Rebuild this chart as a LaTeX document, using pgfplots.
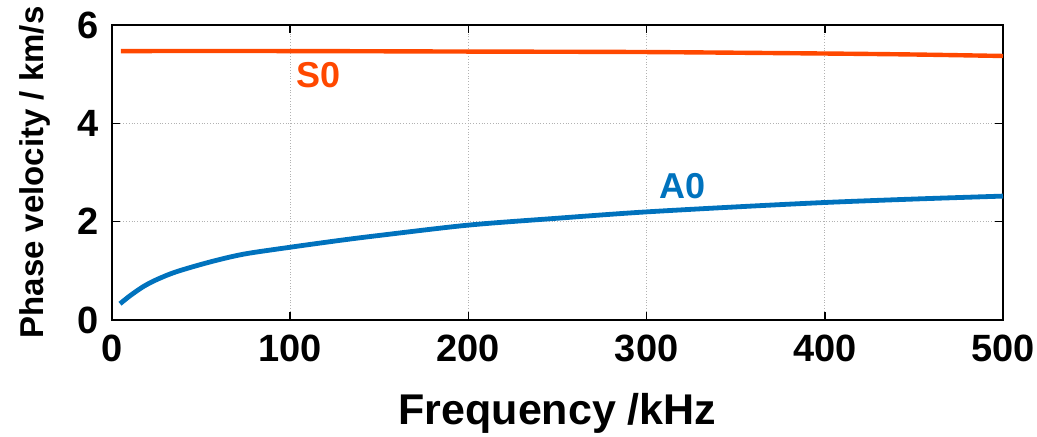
\documentclass[border=0pt]{standalone}
\usepackage{fontspec}
\setmainfont{Liberation Sans}
\usepackage{pgfplots}
\pgfplotsset{compat=1.18}
\definecolor{sorange}{RGB}{255,72,0}
\definecolor{ablue}{RGB}{0,114,189}
\begin{document}
\begin{tikzpicture}
\begin{axis}[
  scale only axis,
  width=445.5pt, height=147.5pt,
  xmin=0, xmax=500, ymin=0, ymax=6,
  xtick={0,100,...,500}, ytick={0,2,4,6},
  tick align=inside, major tick length=4pt,
  axis line style={line width=0.8pt},
  tick style={line width=0.8pt, black},
  grid=major,
  grid style={densely dotted, gray!60, line width=0.6pt},
  /pgf/number format/assume math mode=true,
  ticklabel style={font=\fontsize{19}{19}\selectfont\bfseries},
  xticklabel style={yshift=-4pt},
  yticklabel style={xshift=-3pt},
  xlabel={Frequency /kHz},
  ylabel={Phase velocity / km/s},
  xlabel style={font=\fontsize{21.5}{21.5}\selectfont\bfseries, yshift=-9pt},
  ylabel style={font=\fontsize{16.5}{16.5}\selectfont\bfseries, yshift=7pt},
]
\addplot[sorange, line width=2.2pt, smooth] coordinates {
  (5,5.47) (100,5.47) (200,5.46) (300,5.45) (400,5.42) (450,5.40) (500,5.37)
};
\addplot[ablue, line width=2.4pt, smooth] coordinates {
  (4.5,0.33) (10,0.49) (17.6,0.68) (25,0.82) (36,0.98) (55,1.18) (74,1.34)
  (100,1.48) (128,1.62) (150,1.72) (200,1.93) (250,2.07) (296,2.19)
  (350,2.30) (400,2.39) (450,2.46) (500,2.52)
};
\node[sorange, font=\fontsize{18}{18}\selectfont\bfseries] at (axis cs:116,4.98) {S0};
\node[ablue, font=\fontsize{18}{18}\selectfont\bfseries] at (axis cs:320,2.72) {A0};
\coordinate (sw) at (rel axis cs:0,0);
\coordinate (ne) at (rel axis cs:1,1);
\end{axis}
\pgfresetboundingbox
\path ([xshift=-56pt,yshift=-58.5pt]sw) rectangle ([xshift=17pt,yshift=12.5pt]ne);
\end{tikzpicture}
\end{document}
